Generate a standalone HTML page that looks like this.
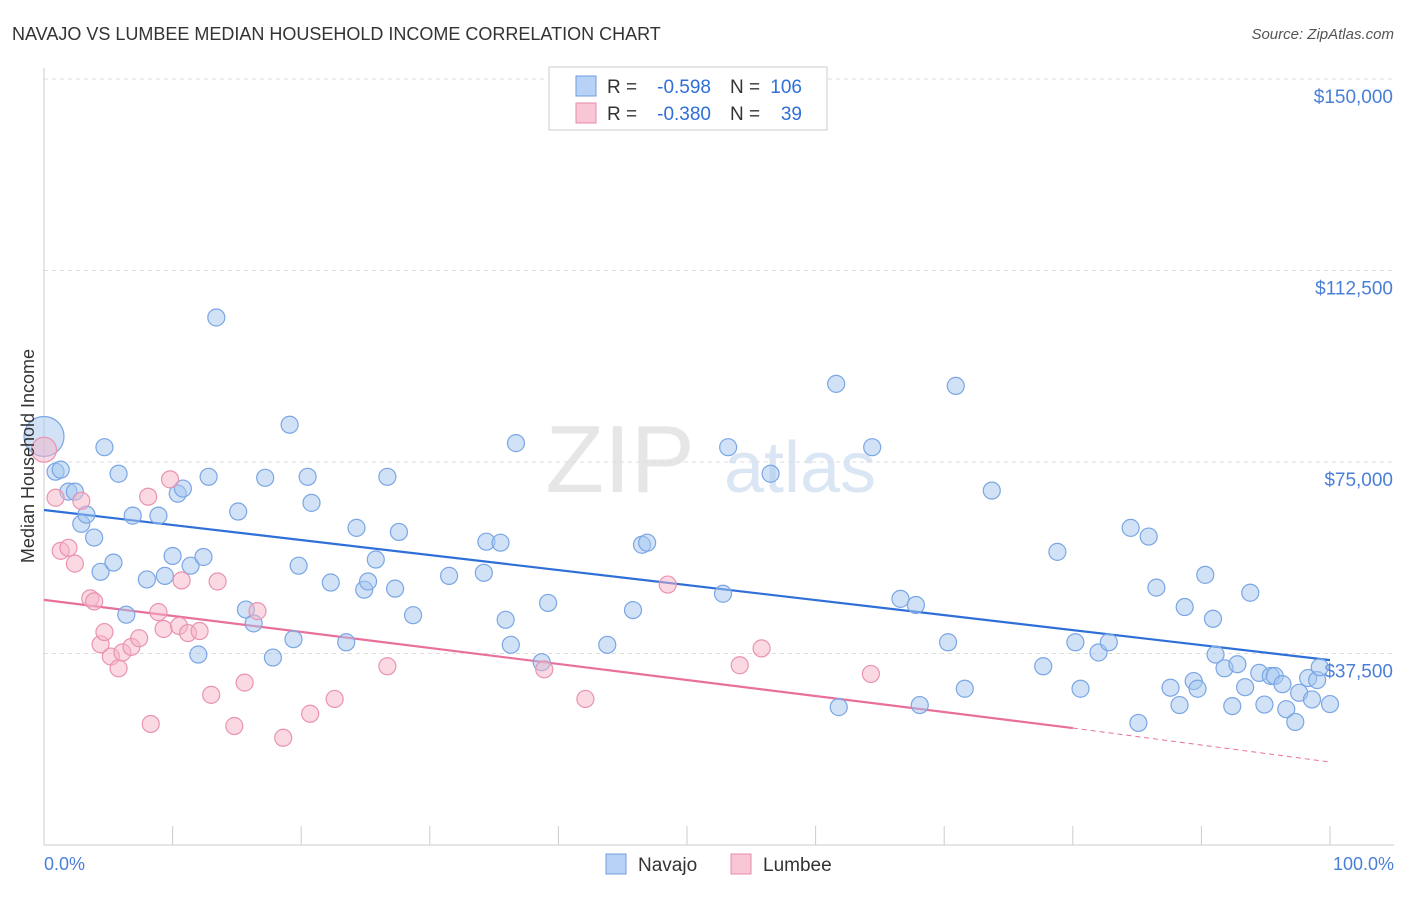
<!DOCTYPE html>
<html><head><meta charset="utf-8"><style>
body{margin:0;background:#fff;font-family:"Liberation Sans",sans-serif;}
svg text{font-family:"Liberation Sans",sans-serif;}
</style></head><body>
<svg id="chart" width="1406" height="892" xmlns="http://www.w3.org/2000/svg">
<text x="12" y="40" font-size="18" fill="#333">NAVAJO VS LUMBEE MEDIAN HOUSEHOLD INCOME CORRELATION CHART</text>
<text x="1394" y="39" font-size="15" fill="#555" font-style="italic" text-anchor="end">Source: ZipAtlas.com</text>
<text x="620" y="492" font-size="96" fill="#e6e6e6" font-family="Liberation Serif" text-anchor="middle">ZIP</text>
<text x="800" y="492" font-size="72" fill="#dbe6f5" text-anchor="middle">atlas</text>
<g id="grid"></g>
<g id="axes"></g>
<g id="lines"></g>
<g id="points"></g>
<text transform="translate(34,456) rotate(-90)" font-size="18" fill="#333" text-anchor="middle">Median Household Income</text>
<text x="44" y="870" font-size="18" fill="#4a7fd8">0.0%</text>
<text x="1394" y="870" font-size="18" fill="#4a7fd8" text-anchor="end">100.0%</text>
<g>
<rect x="549" y="67" width="278" height="63" fill="#fff" stroke="#ccc"/>
<rect x="576" y="76" width="20" height="20" fill="#b8d2f5" stroke="#6f9ee0"/>
<text x="607" y="93" font-size="19" fill="#333">R =</text>
<text x="711" y="93" font-size="19" fill="#2f6fd8" text-anchor="end">-0.598</text>
<text x="730" y="93" font-size="19" fill="#333">N =</text>
<text x="802" y="93" font-size="19" fill="#2f6fd8" text-anchor="end">106</text>
<rect x="576" y="103" width="20" height="20" fill="#f8c6d5" stroke="#e88aa8"/>
<text x="607" y="120" font-size="19" fill="#333">R =</text>
<text x="711" y="120" font-size="19" fill="#2f6fd8" text-anchor="end">-0.380</text>
<text x="730" y="120" font-size="19" fill="#333">N =</text>
<text x="802" y="120" font-size="19" fill="#2f6fd8" text-anchor="end">39</text>
</g>
<g>
<rect x="606" y="854" width="20" height="20" fill="#b8d2f5" stroke="#6f9ee0"/>
<text x="638" y="871" font-size="19" fill="#333">Navajo</text>
<rect x="731" y="854" width="20" height="20" fill="#f8c6d5" stroke="#e88aa8"/>
<text x="763" y="871" font-size="19" fill="#333">Lumbee</text>
</g>
</svg>
<script>
const yTicks=[37500,75000,112500,150000];
const yTickLabels=["$37,500","$75,000","$112,500","$150,000"];
const xTicks=[0,10,20,30,40,50,60,70,80,90,100];
const navajoX=[0,0.9,1.3,1.9,2.4,2.9,3.3,3.9,4.4,4.7,5.4,5.8,6.4,6.9,8.0,8.9,9.4,10.0,10.4,10.8,11.4,12.0,12.4,12.8,13.4,15.1,15.7,16.3,17.2,17.8,19.1,19.4,19.8,20.5,20.8,22.3,23.5,24.3,24.9,25.2,25.8,26.7,27.3,27.6,28.7,31.5,34.2,34.4,35.5,35.9,36.3,36.7,38.7,39.2,43.8,45.8,46.5,46.9,52.8,53.2,56.5,61.6,61.8,64.4,66.6,67.8,68.1,70.3,70.9,71.6,73.7,77.7,78.8,80.2,80.6,82.0,82.8,84.5,85.1,85.9,86.5,87.6,88.3,88.7,89.4,89.7,90.3,90.9,91.1,91.8,92.4,92.8,93.4,93.8,94.5,94.9,95.4,95.7,96.3,96.6,97.3,97.6,98.3,98.6,99.0,99.2,100];
const navajoY=[80000,73100,73500,69200,69200,62900,64700,60200,53500,77900,55300,72700,45100,64500,52000,64500,52700,56600,68800,69800,54700,37300,56400,72100,103300,65300,46100,43400,71900,36700,82300,40300,54700,72100,67000,51400,39700,62100,50000,51600,55900,72100,50200,61300,45000,52700,53300,59400,59200,44100,39200,78700,35800,47400,39200,46000,58800,59200,49200,77900,72700,90300,27000,77900,48200,47000,27400,39700,89900,30600,69400,35000,57400,39700,30600,37700,39700,62100,23900,60400,50400,30800,27400,46600,32100,30600,52900,44300,37300,34600,27200,35400,30900,49400,33700,27500,33100,33100,31500,26600,24100,29800,32700,28500,32300,34800,27600];
const lumbeeX=[0,0.9,1.3,1.9,2.4,2.9,3.6,3.9,4.4,4.7,5.2,5.8,6.1,6.8,7.4,8.1,8.3,8.9,9.3,9.8,10.5,10.7,11.2,12.1,13.0,13.5,14.8,15.6,16.6,18.6,20.7,22.6,26.7,38.9,42.1,48.5,54.1,55.8,64.3];
const lumbeeY=[77400,68000,57600,58200,55100,67400,48300,47700,39300,41700,36900,34600,37700,38800,40500,68200,23700,45600,42300,71600,42900,51800,41500,41900,29400,51600,23300,31800,45800,21000,25700,28600,35000,34400,28600,51000,35200,38500,33500];
const lumbeeSize=[13,9,9,9,9,9,9,9,9,9,9,9,9,9,9,9,9,9,9,9,9,9,9,9,9,9,9,9,9,9,9,9,9,9,9,9,9,9,9];
const navajoTrend=[65600,36200];
const lumbeeTrend=[48000,22900,16250];
const X0=44,X1=1330,Y0=845,YPX=191.5/37500;
const sx=v=>X0+(X1-X0)*v/100, sy=v=>Y0-v*YPX;
const NS="http://www.w3.org/2000/svg";
function mk(tag,attrs,parent){const e=document.createElementNS(NS,tag);for(const k in attrs)e.setAttribute(k,attrs[k]);document.getElementById(parent).appendChild(e);return e;}
yTicks.forEach((t,i)=>{
 const l=mk('line',{x1:44,x2:1394,y1:sy(t),y2:sy(t),stroke:'#ddd','stroke-dasharray':'4,4'},'grid');
 
 
 const tx=mk('text',{x:1393,y:sy(t)+24,'font-size':19,fill:'#4a7fd8','text-anchor':'end'},'grid');
 tx.textContent=yTickLabels[i];
 
 
});
const ya=mk('line',{x1:44,x2:44,y1:68,y2:845,stroke:'#ccc'},'axes');


const xa=mk('line',{x1:44,x2:1394,y1:845,y2:845,stroke:'#ccc'},'axes');


xTicks.forEach(t=>{const e=mk('line',{x1:sx(t),x2:sx(t),y1:826,y2:845,stroke:'#ccc'},'axes');
 
 });
const nl=mk('line',{x1:sx(0),y1:sy(navajoTrend[0]),x2:sx(100),y2:sy(navajoTrend[1]),stroke:'#2f6fd8','stroke-width':2.2},'lines');


const ll=mk('line',{x1:sx(0),y1:sy(lumbeeTrend[0]),x2:sx(80),y2:sy(lumbeeTrend[1]),stroke:'#e8709a','stroke-width':2.2},'lines');


const ld=mk('line',{x1:sx(80),y1:sy(lumbeeTrend[1]),x2:sx(100),y2:sy(lumbeeTrend[2]),stroke:'#e8709a','stroke-width':1,'stroke-dasharray':'5,4'},'lines');


navajoX.forEach((x,i)=>{const c=mk('circle',{cx:sx(x),cy:sy(navajoY[i]),r:i==0?20:8.5,fill:'rgba(164,198,240,0.5)',stroke:'#7aa6e4','stroke-width':1.2},'points');
 
 });
lumbeeX.forEach((x,i)=>{const c=mk('circle',{cx:sx(x),cy:sy(lumbeeY[i]),r:lumbeeSize[i]-0.5,fill:'rgba(245,180,200,0.5)',stroke:'#ea93b0','stroke-width':1.2},'points');
 
 });
</script>
</body></html>
